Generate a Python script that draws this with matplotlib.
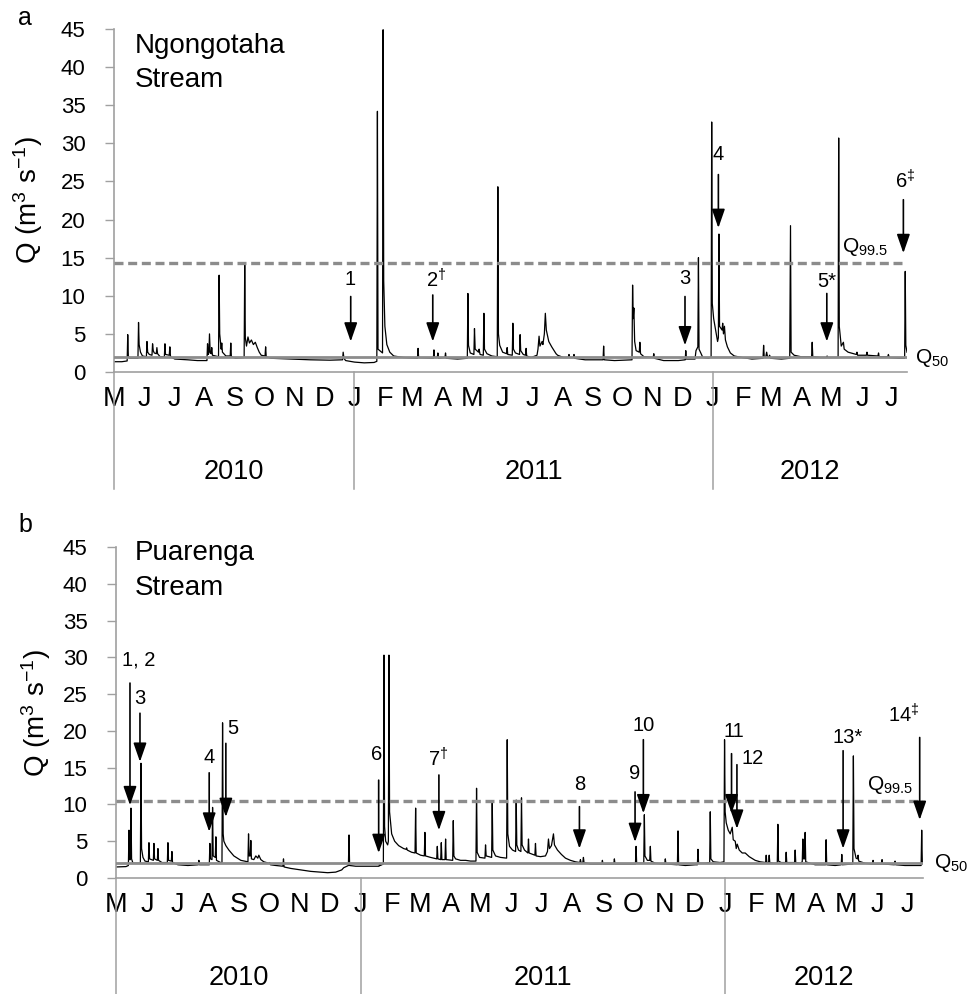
import matplotlib
matplotlib.use("Agg")
import matplotlib.pyplot as plt
from matplotlib import transforms

plt.rcParams['font.family'] = ['Liberation Sans', 'DejaVu Sans']
plt.rcParams['mathtext.fontset'] = 'custom'
plt.rcParams['mathtext.rm'] = 'Liberation Sans'
plt.rcParams['mathtext.it'] = 'Liberation Sans'
plt.rcParams['mathtext.bf'] = 'Liberation Sans'
plt.rcParams['mathtext.default'] = 'regular'

# ---------------- DATA ----------------
# days since 1 May 2010
month_days = [0, 31, 61, 92, 123, 153, 184, 214, 245, 276, 304, 335, 365, 396, 426,
              457, 488, 518, 549, 579, 610, 641, 670, 701, 731, 762, 792]
month_labels = ["M", "J", "J", "A", "S", "O", "N", "D", "J", "F", "M", "A", "M", "J", "J",
                "A", "S", "O", "N", "D", "J", "F", "M", "A", "M", "J", "J"]
year_bounds = [0, 245, 610, 808]
year_labels = ["2010", "2011", "2012"]

# Panel a: Ngongotaha Stream discharge (m3/s)
a_day = [0, 8, 13.4, 14, 14.6, 16, 24.4, 25, 25.6, 27, 29, 33, 33.6, 34.3, 36, 38.7, 39.3, 40, 41,
         43.1, 43.7, 44.4, 47, 51.3, 51.9, 52.5, 56.3, 56.9, 57.6, 62, 75, 85, 94.7, 95.3, 96, 96.7,
         97.3, 98, 99, 99.6, 100.3, 106.5, 107.1, 107.7, 109.2, 109.8, 110.5, 114, 118.4, 119, 119.6,
         124, 132.6, 133.2, 133.8, 135, 136.5, 138, 140, 142, 144, 146, 148, 150, 153.9, 154.5, 155.1,
         160, 180, 200, 220, 232.9, 233.5, 234.3, 236, 245, 255, 265, 267.8, 268.4, 269, 273.6, 274.2,
         274.8, 276, 278, 281, 285, 295, 309.2, 309.8, 310.4, 325.4, 326, 326.6, 329.4, 330, 330.6,
         337.2, 337.8, 338.4, 350, 360, 360.6, 361.2, 363, 366.7, 367.3, 368, 371.4, 372, 373, 376.3,
         376.9, 377.5, 380, 385, 390.5, 391.1, 391.7, 393, 396, 400, 400.6, 401.2, 405.8, 406.4, 407,
         409, 413.2, 413.8, 414.4, 417, 419.3, 419.9, 420.5, 425, 431, 432, 433.1, 434, 436.2, 437,
         438.5, 439.5, 440.5, 443, 446, 449, 450.4, 452, 458, 463, 463.6, 464.2, 468.1, 468.7, 469.3,
         480, 495, 498.3, 498.9, 499.5, 510, 527.8, 528.4, 529, 529.7, 530.5, 532, 535.2, 535.8,
         536.5, 540, 549.4, 550, 550.6, 560, 575, 582, 582.6, 583.2, 592, 593, 594.9, 595.5, 596.1,
         600, 606, 608.4, 609, 609.6, 611, 613, 615, 615.8, 616.4, 617, 619.6, 620.2, 621, 622, 623,
         625, 628, 632, 640, 650, 661.3, 661.9, 662.5, 664, 665, 666, 667.4, 668, 669, 680, 688.5,
         689.3, 689.9, 693, 700, 710.8, 711.4, 712, 720, 726, 726.6, 727.2, 737.8, 738.4, 739, 741,
         743.2, 744, 748, 756.4, 757, 757.6, 766.6, 767.2, 767.8, 778.4, 779, 779.6, 788.4, 789, 790,
         800, 805.6, 806.2, 806.8, 808]
a_q = [1.35, 1.35, 1.45, 4.9, 2.1, 1.8, 1.8, 6.5, 3.6, 2.6, 2.1, 2.0, 4.0, 2.6, 2.3, 2.2, 3.7, 2.8, 2.5,
       2.4, 3.2, 2.4, 2.0, 2.0, 3.7, 2.3, 2.2, 3.3, 2.0, 1.7, 1.6, 1.5, 1.5, 3.7, 2.3, 2.5,
       5.0, 2.6, 2.4, 3.2, 2.2, 2.0, 12.7, 5.0, 3.0, 3.8, 2.6, 2.1, 2.1, 3.8, 2.0,
       1.8, 1.9, 14.2, 4.5, 3.4, 4.6, 3.8, 4.2, 3.6, 3.9, 3.2, 2.6, 2.2, 2.1, 3.3, 2.0,
       1.8, 1.7, 1.6, 1.55, 1.6, 2.6, 1.8, 1.5, 1.3, 1.2, 1.25, 1.4, 34.2, 3.0, 2.5, 44.9,
       12.0, 6.0, 3.6, 2.6, 2.1, 1.9, 1.8, 3.1, 1.9, 1.8, 2.9, 1.9, 1.9, 2.5, 1.8,
       1.9, 2.5, 1.8, 1.7, 1.8, 10.3, 3.5, 2.5, 2.3, 5.7, 3.0, 2.6, 3.0, 2.3, 2.2,
       7.7, 3.0, 2.4, 2.1, 2.0, 24.3, 5.0, 3.5, 2.6, 2.4, 3.2, 2.3, 2.2, 6.4, 3.0,
       2.5, 2.3, 4.9, 2.8, 2.3, 2.2, 3.1, 2.1, 1.9, 2.2, 3.0, 4.7, 3.4, 4.0, 3.6,
       5.0, 7.7, 5.5, 4.0, 3.3, 2.7, 2.4, 2.2, 1.9, 1.9, 2.3, 1.9, 1.9, 2.3, 1.8,
       1.6, 1.6, 1.6, 3.4, 1.6, 1.5, 1.6, 11.4, 7.0, 8.4, 4.0, 2.8, 2.6, 3.9,
       2.4, 2.0, 1.9, 2.4, 1.8, 1.5, 1.5, 1.6, 2.8, 1.7, 1.7, 2.8, 3.3, 15.0, 3.0,
       1.9, 1.8, 2.0, 32.8, 9.0, 7.0, 5.5, 4.0, 4.5, 18.1, 6.0, 5.5, 6.4, 5.0, 6.0, 4.2,
       3.3, 2.5, 2.1, 1.9, 1.7, 1.8, 3.5, 2.0, 1.9, 2.6, 1.9, 2.0, 2.2, 1.8, 1.7, 1.8,
       19.2, 2.6, 2.2, 2.0, 2.0, 3.9, 2.0, 1.9, 1.9, 2.1, 1.9, 1.9, 30.7, 6.0, 3.4,
       3.9, 3.0, 2.6, 2.3, 2.6, 2.2, 2.2, 2.6, 2.2, 2.1, 2.5, 2.0, 2.0, 2.3, 1.9,
       1.8, 1.8, 13.2, 3.5, 2.6]

# Panel b: Puarenga Stream discharge (m3/s)
b_day = [0, 10, 12.4, 13, 13.5, 14.4, 15, 15.6, 17, 24.4, 25, 25.6, 27, 29, 32.4, 33, 33.6, 37.4, 38,
         38.6, 41.4, 42, 42.6, 46, 51.4, 52, 52.6, 55.4, 56, 56.6, 62, 72, 82.4, 83, 83.6, 93.4, 94,
         94.6, 96.1, 96.7, 97.3, 99.4, 100, 100.6, 106.1, 106.7, 107.3, 108, 110, 113, 118, 125, 132.1,
         132.7, 133.3, 134.4, 135, 135.6, 138, 140, 142, 143, 145, 148, 153.4, 154, 154.6, 160, 167.1,
         167.7, 168.3, 175, 185, 195, 205, 212, 220, 224, 226, 228, 232.7, 233.3, 233.9, 240, 255,
         263.4, 264, 264.6, 267.7, 268.3, 268.9, 270, 272, 272.7, 273.3, 273.9, 276, 279, 283, 288,
         290.4, 291, 291.6, 296, 299.4, 300, 300.6, 305, 308.7, 309.3, 309.9, 315, 321.1, 321.7, 322.3,
         325.1, 325.7, 326.3, 329.4, 330, 330.6, 337.1, 337.7, 338.3, 340, 345, 350, 355, 360.4, 361,
         361.6, 364, 369.4, 370, 370.6, 376.1, 376.7, 377.3, 380, 385, 391.1, 391.7, 392.3, 394, 397,
         400.1, 400.7, 401.3, 403, 405.4, 406, 406.6, 409, 412.4, 413, 413.6, 419.4, 420, 420.6, 425,
         430, 432, 433, 434, 436, 438, 439, 442, 446, 450, 455, 460, 464.4, 465, 465.6, 467.4, 468,
         468.6, 475, 486.4, 487, 487.6, 498.4, 499, 499.6, 510, 520.1, 520.7, 521.3, 528.4, 529, 529.6,
         532, 534.4, 535, 535.6, 540, 549.4, 550, 550.6, 562.1, 562.7, 563.3, 570, 580, 582.1, 582.7,
         583.3, 590, 594.4, 595, 595.6, 598, 605, 608.7, 609.3, 609.9, 611, 613, 615, 617, 618, 620,
         621, 622, 624, 627, 630, 634, 640, 645, 650.4, 651, 651.6, 653.4, 654, 654.6, 658, 662.1,
         662.7, 663.3, 666, 670.4, 671, 671.6, 679.4, 680, 680.6, 685, 687.1, 687.7, 688.4, 689.4, 690,
         690.6, 695, 700, 710.4, 711, 711.6, 720, 726.1, 726.7, 727.3, 737.7, 738.3, 738.9, 741, 742.4,
         743, 743.6, 750, 757.4, 758, 758.6, 766.4, 767, 767.6, 779.4, 780, 780.6, 790, 800, 806.1,
         806.7, 807.3, 808]
b_q = [1.5, 1.55, 1.7, 6.5, 2.5, 2.5, 9.5, 2.6, 2.0, 2.0, 15.6, 4.0, 2.8, 2.3, 2.2, 4.8, 2.6, 2.4, 4.7,
       2.6, 2.4, 4.0, 2.4, 2.1, 2.1, 4.8, 2.4, 2.3, 3.6, 2.1, 1.8, 1.7, 1.8, 2.4, 1.8, 1.8, 4.7,
       2.6, 2.5, 9.6, 3.0, 2.8, 5.6, 2.4, 2.0, 21.1, 6.0, 5.0, 4.4, 3.8, 3.0, 2.4, 2.2,
       6.0, 3.0, 3.0, 5.1, 2.6, 2.5, 3.0, 2.7, 3.1, 2.5, 2.2, 2.0, 2.1, 1.8, 1.7, 1.6,
       2.6, 1.5, 1.3, 1.1, 0.9, 0.8, 0.72, 0.8, 1.0, 1.1, 1.4, 1.7, 5.85, 1.7, 1.6, 1.6,
       1.6, 2.0, 1.7, 1.9, 30.3, 7.0, 5.0, 4.5, 5.0, 30.3, 9.0, 6.0, 5.0, 4.4, 4.0,
       3.9, 4.1, 3.8, 3.5, 3.4, 9.5, 3.4, 3.1, 3.0, 6.2, 3.0, 2.8, 2.6, 4.3, 2.6,
       2.5, 4.8, 2.5, 2.5, 5.3, 2.5, 2.4, 7.8, 3.0, 2.6, 2.4, 2.4, 2.3, 2.3, 12.2,
       3.5, 2.8, 2.7, 4.5, 3.0, 2.8, 10.4, 3.8, 3.0, 2.8, 2.7, 18.8, 6.0, 4.3, 3.8,
       3.6, 10.6, 4.5, 3.8, 3.6, 10.9, 4.5, 3.8, 3.4, 5.3, 3.4, 3.1, 4.7, 3.0, 2.9,
       3.0, 3.6, 5.3, 4.0, 4.4, 6.0, 4.5, 3.8, 3.2, 2.7, 2.4, 2.2, 2.1, 2.5, 2.1, 2.1, 2.8,
       2.1, 1.9, 1.9, 2.4, 1.9, 1.9, 2.6, 1.9, 1.9, 1.9, 4.3, 2.0, 2.0, 8.6, 3.0,
       2.4, 2.4, 4.3, 2.3, 2.0, 1.9, 2.6, 1.9, 1.8, 6.4, 1.8, 1.7, 1.8, 1.8, 3.9,
       2.0, 2.0, 2.1, 9.0, 2.6, 2.2, 2.1, 2.2, 18.8, 9.0, 7.5, 6.5, 6.0, 6.9, 5.2, 5.0,
       4.0, 4.6, 3.8, 3.4, 3.4, 2.9, 2.4, 2.2, 2.1, 3.1, 2.1, 2.1, 3.1, 2.1, 2.0, 2.0,
       7.3, 2.3, 2.1, 2.1, 3.5, 2.1, 2.1, 3.8, 2.1, 2.0, 2.2, 5.3, 2.6, 2.6, 6.2,
       2.2, 2.0, 1.8, 1.8, 5.2, 1.8, 1.7, 1.8, 3.2, 1.8, 1.9, 16.6, 4.0, 2.7, 2.6,
       3.1, 2.3, 2.0, 1.9, 2.4, 1.9, 1.9, 2.5, 1.9, 1.8, 2.3, 1.8, 1.7, 1.7, 1.7,
       6.5, 2.2, 2.0]

a_q50, a_q995 = 1.93, 14.25
b_q50, b_q995 = 2.0, 10.5

# Event annotations
a_labels = ["1", r"2$^{\dagger}$", "3", "4", "5*", r"6$^{\ddagger}$"]
a_arrow_day = [241.2, 324.8, 581.8, 615.8, 726.3, 804.3]
a_arrow_top = [9.9, 10.1, 9.9, 25.9, 10.3, 22.6]
a_arrow_tip = [4.0, 4.0, 3.5, 18.9, 4.0, 15.6]
a_label_day = [241.0, 328.0, 581.8, 615.8, 726.5, 806.0]
a_label_q = [11.4, 11.1, 11.5, 27.8, 11.2, 24.1]

b_labels = ["1, 2", "3", "4", "5", "6", r"7$^{\dagger}$", "8", "9", "10", "11", "12", "13*",
            r"14$^{\ddagger}$"]
b_arrow_day = [14, 24, 93.3, 110, 263, 323.3, 464, 519.7, 528, 616.3, 621.7, 728, 804.7]
b_arrow_top = [26.5, 22.4, 14.3, 18.3, 13.3, 14.0, 9.7, 11.7, 18.8, 16.9, 15.4, 17.3, 19.1]
b_arrow_tip = [9.9, 15.8, 6.3, 8.3, 3.4, 6.5, 4.0, 4.9, 8.8, 8.8, 6.7, 4.0, 7.9]
b_label_day = [22.3, 24, 93, 116.6, 261.4, 322.3, 464, 519, 528, 619, 637, 733, 789]
b_label_q = [28.9, 23.7, 15.7, 19.6, 16.0, 15.2, 11.9, 13.5, 20.0, 19.2, 15.5, 18.3, 21.2]

# ---------------- FIGURE ----------------
W, H = 967, 994
fig = plt.figure(figsize=(W / 100, H / 100), dpi=100)


def fx(x):
    return x / W


def fy(y):
    return 1 - y / H


GRAY = '#a0a0a0'


def draw_panel(ax, days, q, q50, q995, labels, arr_day, arr_top, arr_tip, lab_day, lab_q,
               q995_pos, q50_pos, sep_depth, year_depth):
    ax.plot(days, q, color='black', lw=0.9, zorder=2)
    ax.axhline(q50, color='#8c8c8c', lw=2.0, zorder=3)
    ax.axhline(q995, color='#8c8c8c', lw=2.4, dashes=(2.7, 1.4), zorder=3)
    ax.set_xlim(0, 808)
    ax.set_ylim(0, 45)
    ax.set_yticks(range(0, 46, 5))
    ax.tick_params(axis='y', direction='out', length=6.5, width=1, color=GRAY,
                   labelsize=16, pad=14)
    ax.set_xticks(month_days)
    ax.set_xticklabels(month_labels)
    ax.tick_params(axis='x', length=0, labelsize=19.5, pad=10)
    for s in ['top', 'right']:
        ax.spines[s].set_visible(False)
    for s in ['left', 'bottom']:
        ax.spines[s].set_color(GRAY)
        ax.spines[s].set_linewidth(1.2)
    # year separators
    trans = transforms.blended_transform_factory(ax.transData, ax.transAxes)
    for d in year_bounds[:-1]:
        ax.plot([d, d], [0, -sep_depth], color=GRAY, lw=1.1, transform=trans, clip_on=False)
    for i, lab in enumerate(year_labels):
        xm = (year_bounds[i] + year_bounds[i + 1]) / 2
        ax.text(xm, -year_depth, lab, transform=trans, ha='center', va='center', fontsize=19.5)
    # arrows and labels
    for i, lab in enumerate(labels):
        ax.annotate('', xy=(arr_day[i], arr_tip[i]), xytext=(arr_day[i], arr_top[i]),
                    arrowprops=dict(arrowstyle='-|>,head_length=1.15,head_width=0.4',
                                    color='black', lw=1.2, shrinkA=0, shrinkB=0), zorder=4)
        ax.text(lab_day[i], lab_q[i], lab, ha='center', va='baseline', fontsize=14.5, zorder=5)
    ax.text(q995_pos[0], q995_pos[1], r"Q$_{99.5}$", ha='left', va='center', fontsize=15)
    ax.text(q50_pos[0], q50_pos[1], r"Q$_{50}$", ha='left', va='center', fontsize=15)


axA = fig.add_axes([fx(114), fy(372), fx(907 - 114), (372 - 29) / H])
draw_panel(axA, a_day, a_q, a_q50, a_q995, a_labels, a_arrow_day, a_arrow_top, a_arrow_tip,
           a_label_day, a_label_q, (741.5, 16.4), (816, 1.8), 117 / 343, 100 / 343)

axB = fig.add_axes([fx(116), fy(878), fx(923 - 116), (878 - 547) / H])
draw_panel(axB, b_day, b_q, b_q50, b_q995, b_labels, b_arrow_day, b_arrow_top, b_arrow_tip,
           b_label_day, b_label_q, (751.6, 12.6), (819, 2.0), 120 / 331, 100 / 331)

# panel letters, station names, y labels
fig.text(fx(18), fy(25), "a", fontsize=18, ha='left', va='baseline')
fig.text(fx(18), fy(532), "b", fontsize=18, ha='left', va='baseline')
fig.text(fx(135), fy(53), "Ngongotaha", fontsize=20, ha='left', va='baseline')
fig.text(fx(135), fy(87), "Stream", fontsize=20, ha='left', va='baseline')
fig.text(fx(135), fy(560), "Puarenga", fontsize=20, ha='left', va='baseline')
fig.text(fx(135), fy(595), "Stream", fontsize=20, ha='left', va='baseline')
ylab = r"Q (m$^{3}$ s$^{-1}$)"
fig.text(fx(28), fy(200), ylab, rotation=90, fontsize=20, ha='center', va='center')
fig.text(fx(36), fy(713), ylab, rotation=90, fontsize=20, ha='center', va='center')

fig.savefig("out.png", dpi=100, facecolor='white')
